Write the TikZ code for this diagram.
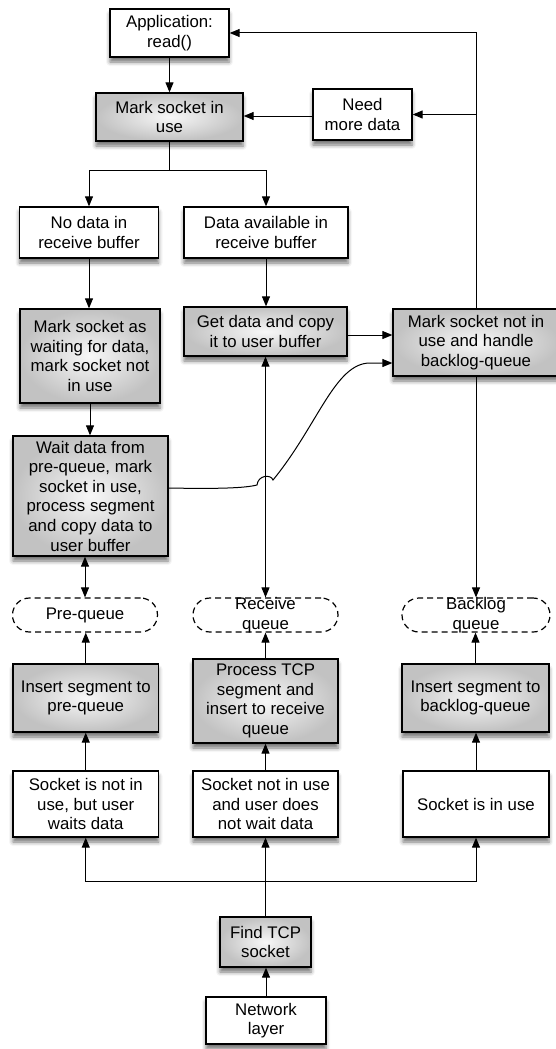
\documentclass[tikz,border=0pt]{standalone}
\usepackage{fontspec}
\setmainfont{Liberation Sans}
\usetikzlibrary{arrows.meta,shadows.blur,calc}
\begin{document}
\begin{tikzpicture}[x=1pt,y=-1pt,
  box/.style={draw=black, line width=1.3pt, fill=white, align=center, inner sep=0pt,
    font=\fontsize{16.8}{19.6}\selectfont,
    blur shadow={shadow xshift=0pt, shadow yshift=-5pt, shadow blur radius=4pt, shadow opacity=55}},
  shbox/.style={box, inner color=white!97!black, outer color=black!24},
  queue/.style={draw=black, line width=1.2pt, dash pattern=on 6pt off 4pt, fill=white, rounded corners=17pt, inner sep=0pt},
  qtext/.style={align=center, inner sep=0pt, font=\fontsize{16.8}{19.6}\selectfont},
  arr/.style={-{Triangle[length=10pt,width=8pt]}, line width=1pt},
  darr/.style={{Triangle[length=10pt,width=8pt]}-{Triangle[length=10pt,width=8pt]}, line width=1pt},
]
\useasboundingbox (0,0) rectangle (556,1049);

\node[box,   minimum width=119pt, minimum height=48pt]  (app)      at (169.5,33)   {Application:\\read()};
\node[shbox, minimum width=147pt, minimum height=48pt]  (mark)     at (169.5,117)  {Mark socket in\\use};
\node[box,   minimum width=99pt,  minimum height=51pt]  (need)     at (362.5,114.5){Need\\more data};
\node[box,   minimum width=139pt, minimum height=51pt]  (nodata)   at (89,232.5)   {No data in\\receive buffer};
\node[box,   minimum width=164pt, minimum height=51pt]  (avail)    at (266,232.5)  {Data available in\\receive buffer};
\node[shbox, minimum width=140pt, minimum height=94pt]  (markwait) at (90,356)     {Mark socket as\\waiting for data,\\mark socket not\\in use};
\node[shbox, minimum width=163pt, minimum height=49pt]  (getdata)  at (265.5,331.5){Get data and copy\\it to user buffer};
\node[shbox, minimum width=166pt, minimum height=67pt]  (marknot)  at (476,342.5)  {Mark socket not in\\use and handle\\backlog-queue};
\node[shbox, minimum width=155pt, minimum height=120pt] (wait)     at (90.5,496)   {Wait data from\\pre-queue, mark\\socket in use,\\process segment\\and copy data to\\user buffer};

\node[queue, minimum width=145pt, minimum height=34pt] (preq)  at (85,615)    {};
\node[queue, minimum width=145pt, minimum height=34pt] (recvq) at (265.5,615) {};
\node[queue, minimum width=148pt, minimum height=34pt] (backq) at (476,615)   {};
\node[qtext] (preqt)  at (preq)  {Pre-queue};
\node[qtext] (recvqt) at (recvq) {Receive\\queue};
\node[qtext] (backqt) at (backq) {Backlog\\queue};

\node[shbox, minimum width=145.5pt, minimum height=68pt] (inspre)  at (85.75,698) {Insert segment to\\pre-queue};
\node[shbox, minimum width=145pt,   minimum height=84pt] (process) at (265.5,701) {Process TCP\\segment and\\insert to receive\\queue};
\node[shbox, minimum width=147pt,   minimum height=68pt] (insback) at (475.5,698) {Insert segment to\\backlog-queue};

\node[box, minimum width=145.5pt, minimum height=66pt] (s1) at (85.75,804) {Socket is not in\\use, but user\\waits data};
\node[box, minimum width=145pt,   minimum height=66pt] (s2) at (265.5,804) {Socket not in use\\and user does\\not wait data};
\node[box, minimum width=146pt,   minimum height=66pt] (s3) at (476,804)   {Socket is in use};

\node[shbox, minimum width=91pt,  minimum height=50pt] (find) at (265.5,942) {Find TCP\\socket};
\node[box,   minimum width=120pt, minimum height=47pt] (net)  at (266,1020.5) {Network\\layer};

% connectors
\draw[arr] (app.south) -- (app.south |- mark.north);
\draw[arr] ($(need.west)+(0,1.5)$) coordinate (nw) -- (nw -| mark.east);
\draw[arr] (marknot.north) |- (app.east);
\draw[arr] (marknot.north) |- (need.east);
\coordinate (split) at ($(mark.south)+(0,29)$);
\draw[arr] (mark.south) -- (split) -| (nodata.north);
\draw[arr] (split) -| (avail.north);
\draw[arr] (nodata.south) -- (nodata.south |- markwait.north);
\draw[arr] (avail.south) -- (avail.south |- getdata.north);
\draw[arr] (markwait.south) -- (markwait.south |- wait.north);
\draw[arr] ($(getdata.east)+(0,3.5)$) coordinate (ge) -- (ge -| marknot.west);
\coordinate (cs) at ($(wait.east)+(0,-8)$);
\coordinate (ce) at ($(marknot.west)+(0,20.5)$);
\draw[arr] (cs) .. controls (220,489) and (245,488) .. (257,485)
  .. controls (258,475) and (271,474) .. (273,480)
  .. controls (318,425) and (335,363) .. (370,363) -- (ce);
\draw[darr] (preq.north) -- (preq.north |- wait.south);
\draw[darr] (getdata.south) -- (getdata.south |- recvq.north);
\draw[arr] (marknot.south) -- (marknot.south |- backq.north);
\draw[arr] (inspre.north) -- (inspre.north |- preq.south);
\draw[arr] (process.north) -- (process.north |- recvq.south);
\draw[arr] (insback.north) -- (insback.north |- backq.south);
\draw[arr] (s1.north) -- (s1.north |- inspre.south);
\draw[arr] (s2.north) -- (s2.north |- process.south);
\draw[arr] (s3.north) -- (s3.north |- insback.south);
\draw[arr] (net.north) -- (net.north |- find.south);
\draw[arr] (find.north) -- (find.north |- s2.south);
\coordinate (fork) at ($(find.north)+(0,-35)$);
\draw[arr] (fork) -| (s1.south);
\draw[arr] (fork) -| (s3.south);
\end{tikzpicture}
\end{document}
